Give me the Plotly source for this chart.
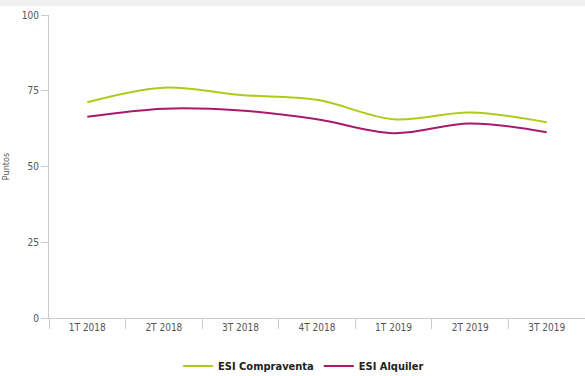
import plotly.graph_objects as go

categories = ["1T 2018", "2T 2018", "3T 2018", "4T 2018", "1T 2019", "2T 2019", "3T 2019"]
compraventa = [71.2, 76.0, 73.6, 72.0, 65.6, 67.8, 64.6]
alquiler = [66.4, 69.1, 68.5, 65.6, 61.0, 64.2, 61.3]
y_ticks = [0, 25, 50, 75, 100]

FONT = "DejaVu Sans Condensed"

fig = go.Figure()
fig.add_trace(go.Scatter(
    x=categories, y=compraventa, name="ESI Compraventa", mode="lines",
    line=dict(color="#b2c91a", width=2, shape="spline", smoothing=1.0),
))
fig.add_trace(go.Scatter(
    x=categories, y=alquiler, name="ESI Alquiler", mode="lines",
    line=dict(color="#a8196e", width=2, shape="spline", smoothing=1.0),
))

fig.update_layout(
    width=585, height=376,
    margin=dict(l=49, r=0, t=15, b=58, autoexpand=False),
    paper_bgcolor="white", plot_bgcolor="white",
    font=dict(family=FONT, color="#555555", size=10),
    showlegend=True,
    legend=dict(orientation="h", x=0.475, xanchor="center", yref="paper", y=-48 / 303, yanchor="middle",
                font=dict(family=FONT, size=11, color="#222222", weight="bold"),
                itemwidth=30, tracegroupgap=0),
    xaxis=dict(
        type="category", range=[-0.5, 6.5],
        showgrid=False, showline=True, linecolor="#cccccc", linewidth=1,
        ticks="outside", tickson="boundaries", ticklen=10, tickcolor="#cccccc",
        tickfont=dict(family=FONT, size=10, color="#555555"),
        zeroline=False,
    ),
    yaxis=dict(
        range=[0, 100], tickvals=y_ticks,
        showgrid=False, showline=True, linecolor="#cccccc", linewidth=1,
        ticks="outside", ticklen=7, tickcolor="#cccccc",
        tickfont=dict(family=FONT, size=10, color="#555555"),
        zeroline=False,
        title=dict(text="Puntos", font=dict(family=FONT, size=9, color="#555555"), standoff=10),
    ),
    shapes=[dict(type="rect", xref="paper", yref="paper", x0=-0.2, x1=1.0,
                 y0=1.0 + 9 / 303, y1=1.0 + 15 / 303, fillcolor="#f0f0f0",
                 line=dict(width=0), layer="below")],
)

fig.write_html("out.html")
